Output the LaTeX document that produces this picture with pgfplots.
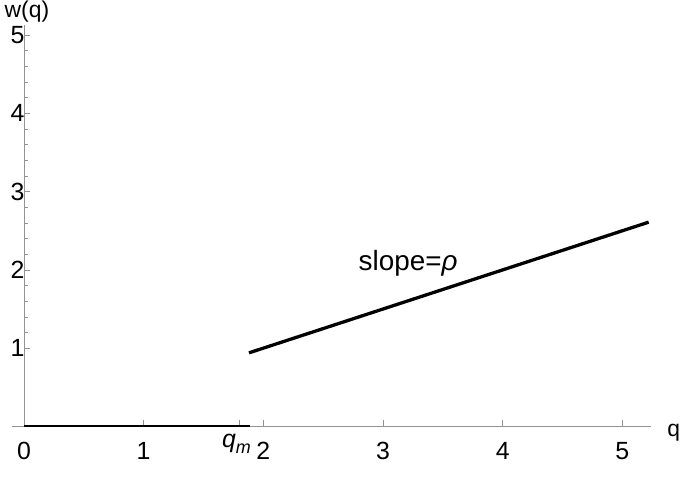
\documentclass[border=0pt]{standalone}
\usepackage{pgfplots}
\pgfplotsset{compat=1.18}
\usepackage{fontspec}
\setmainfont{Liberation Sans}

\begin{document}
\begin{tikzpicture}
\begin{axis}[
    scale only axis,
    width=640bp, height=402bp,
    xmin=-0.1, xmax=5.24,
    ymin=0, ymax=5.13,
    axis lines=middle,
    axis line style={-, draw=gray!85, line width=0.8pt},
    every tick/.style={draw=gray!85, line width=0.7pt},
    tick align=inside,
    major tick length=6bp,
    minor tick length=4bp,
    hide obscured x ticks=false,
    xtick={0,1,2,3,4,5},
    ytick={1,2,3,4,5},
    minor y tick num=4,
    extra x ticks={1.8},
    extra x tick labels={\textit{q}\raisebox{-0.25em}{\fontsize{18}{20}\selectfont\textit{m}}},
    extra x tick style={xticklabel style={yshift=8bp, xshift=-3bp}},
    /pgf/number format/assume math mode=true,
    ticklabel style={font=\fontsize{25}{29}\selectfont},
    xticklabel style={anchor=north, yshift=-12bp},
    yticklabel style={anchor=east, xshift=4bp},
    xlabel={q},
    ylabel={w(q)},
    label style={font=\fontsize{23}{27}\selectfont, inner sep=0pt},
    xlabel style={at={(axis cs:5.24,0)}, anchor=base west, xshift=16bp, yshift=-10bp},
    ylabel style={at={(axis cs:0,5.13)}, anchor=base, rotate=0, xshift=3bp, yshift=7bp},
    clip=false,
]
\addplot[black, line width=2pt] coordinates {(0,0) (1.89,0)};
\addplot[black, line width=3.3pt] coordinates {(1.88,0.94) (5.22,2.61)};
\node[font=\fontsize{28}{32}\selectfont] at (axis cs:3.21,2.09) {slope=\textit{ρ}};
\coordinate (ll) at (axis cs:-0.1,0);
\end{axis}
\path (ll) ++(-12bp,-54bp) rectangle ++(680bp,481bp);
\end{tikzpicture}
\end{document}
